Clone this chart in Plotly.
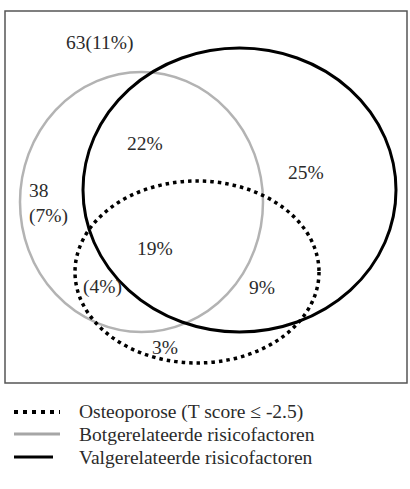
import plotly.graph_objects as go

# ---- data ----
region_labels = ["63(11%)", "22%", "25%", "38<br>(7%)", "19%", "(4%)", "9%", "3%"]
legend_labels = [
    "Osteoporose (T score \u2264 -2.5)",
    "Botgerelateerde risicofactoren",
    "Valgerelateerde risicofactoren",
]

# ---- layout (pixel-like coordinates) ----
W, H = 410, 489
label_pos = [(100, 43), (145, 143), (306, 172), (27, 203), (155, 248), (102, 287), (262, 287), (165, 347)]
label_anchor = ["center", "center", "center", "left", "center", "center", "center", "center"]

fig = go.Figure()
fig.add_trace(go.Scatter(x=[0, W], y=[0, H], mode="markers", marker=dict(opacity=0), hoverinfo="skip", showlegend=False))

TXT = "#2b2b2b"
FONT = "Liberation Serif, Times New Roman, serif"

# outer box
fig.add_shape(type="rect", x0=5, y0=11, x1=407, y1=383, line=dict(color="#555555", width=1.5))

# grey circle (Botgerelateerde)
fig.add_shape(type="circle", x0=20, y0=72, x1=263, y1=332, line=dict(color="#b3b3b3", width=2.5))
# black ellipse (Valgerelateerde)
fig.add_shape(type="circle", x0=83, y0=48, x1=396, y1=332, line=dict(color="#000000", width=3))
# dotted ellipse (Osteoporose)
fig.add_shape(type="circle", x0=75, y0=181, x1=319, y1=363, line=dict(color="#000000", width=3.5, dash="3.5px,4px"))

for lab, (x, y), anc in zip(region_labels, label_pos, label_anchor):
    fig.add_annotation(x=x, y=y, text=lab, showarrow=False, xanchor=anc, yanchor="middle",
                       align="left", font=dict(family=FONT, size=19.5, color=TXT))

# legend
leg_y = [412, 434, 457]
leg_styles = [
    dict(color="#000000", width=4, dash="4px,5px"),
    dict(color="#a6a6a6", width=3),
    dict(color="#000000", width=3),
]
leg_x1 = [60, 60, 53]
for lab, y, st, x1 in zip(legend_labels, leg_y, leg_styles, leg_x1):
    fig.add_shape(type="line", x0=14, x1=x1, y0=y, y1=y, line=st)
    fig.add_annotation(x=77, y=y, text=lab, showarrow=False, xanchor="left", yanchor="middle",
                       font=dict(family=FONT, size=19.5, color=TXT))

fig.update_xaxes(range=[0, W], visible=False, fixedrange=True)
fig.update_yaxes(range=[H, 0], visible=False, fixedrange=True)
fig.update_layout(width=W, height=H, margin=dict(l=0, r=0, t=0, b=0),
                  paper_bgcolor="white", plot_bgcolor="white", showlegend=False)

fig.write_html("out.html", config={"displayModeBar": False},
               post_script="document.body.style.margin='0';document.body.style.overflow='hidden';")
